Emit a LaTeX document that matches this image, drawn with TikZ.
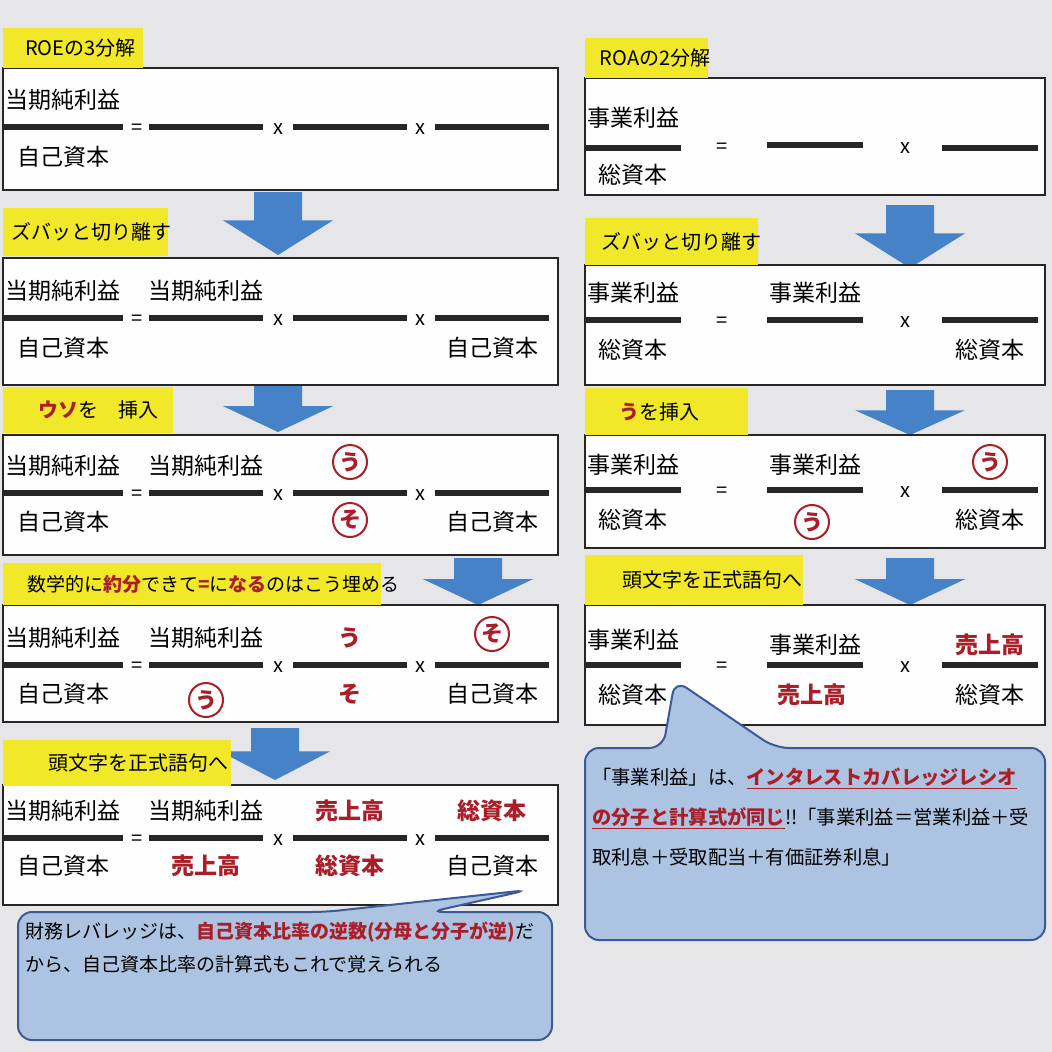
\documentclass[tikz,border=0pt]{standalone}
\usepackage{fontspec}
\setmainfont{Noto Sans CJK JP}
\definecolor{bg}{RGB}{230,230,232}
\definecolor{ylw}{RGB}{240,232,40}
\definecolor{blu}{RGB}{70,130,200}
\definecolor{rd}{RGB}{170,30,40}
\definecolor{cfill}{RGB}{172,196,226}
\definecolor{cline}{RGB}{60,90,150}
\tikzset{
 panel/.style={draw=black!85,line width=2.5pt,fill=white!94!bg},
 lab/.style={fill=ylw,anchor=north west,inner sep=0pt,font=\fontsize{20}{22}\selectfont},
 bar/.style={line width=5.5pt,black!85},
 ft/.style={font=\fontsize{23}{26}\selectfont,inner sep=0pt},
 rt/.style={font=\fontsize{23}{26}\selectfont\bfseries,text=rd,inner sep=0pt},
 circ/.style={draw=rd,line width=2pt,circle,minimum size=34pt,inner sep=0pt,font=\fontsize{22}{24}\selectfont\bfseries,text=rd},
 op/.style={font=\fontsize{20}{22}\selectfont,inner sep=0pt},
 barrow/.style={fill=blu,draw=none},
 callout/.style={fill=cfill,draw=cline,line width=2pt,rounded corners=14pt},
 ctext/.style={anchor=north west,inner sep=0pt,align=left},
}
\newcommand\bfr[4]{% name,x,y,halfwidth
 \draw[bar] (#2-#4,#3) coordinate(#1a) -- (#2+#4,#3) coordinate(#1b);}
\newcommand\arr[3]{% x, top, bottom
 \fill[barrow] (#1-24,#2) -- (#1+24,#2) -- (#1+24,#2+0.45*#3-0.45*#2) -- (#1+55,#2+0.45*#3-0.45*#2) -- (#1,#3) -- (#1-55,#2+0.45*#3-0.45*#2) -- (#1-24,#2+0.45*#3-0.45*#2) -- cycle;}
\begin{document}
\begin{tikzpicture}[x=1pt,y=-1pt]
\fill[bg] (0,0) rectangle (1052,1052);
\useasboundingbox (0,0) rectangle (1052,1052);
% ===== LEFT =====
\arr{278}{192}{255}
\arr{278}{385}{432}
\arr{478}{558}{605}
\arr{275}{728}{780}
\draw[panel] (3,68) rectangle (558,190);
\draw[panel] (3,258) rectangle (558,385);
\draw[panel] (3,435) rectangle (558,555);
\draw[panel] (3,605) rectangle (558,722);
\draw[panel] (3,785) rectangle (558,905);
\node[lab,minimum width=140pt,minimum height=40pt,text width=120pt] (l1) at (3,28) {\hspace*{12pt}ROEの3分解};
\node[lab,minimum width=165pt,minimum height=48pt,text width=160pt] (l2) at (3,208) {\hspace*{6pt}ズバッと切り離す};
\node[lab,minimum width=170pt,minimum height=46pt,text width=160pt] (l3) at (3,387) {\hspace*{30pt}{\bfseries\color{rd}ウソ}を\quad 挿入};
\node[lab,minimum width=378pt,minimum height=42pt,text width=370pt,font=\fontsize{19}{22}\selectfont] (l4) at (3,563) {\hspace*{20pt}数学的に{\bfseries\color{rd}約分}できて{\bfseries\color{rd}=}に{\bfseries\color{rd}なる}のはこう埋める};
\node[lab,minimum width=228pt,minimum height=46pt,text width=210pt] (l5) at (3,740) {\hspace*{36pt}頭文字を正式語句へ};
% box1
\bfr{a1}{63}{127}{60}
\node[ft] (a1n) at (63,100) {当期純利益};
\node[ft] (a1d) at (63,157) {自己資本};
\node[op] (a1e) at (137,129) {=};
\bfr{a2}{206}{127}{57}
\node[op] (a1x) at (278,129) {x};
\bfr{a3}{350}{127}{57}
\node[op] (a1y) at (420,129) {x};
\bfr{a4}{492}{127}{57}
% box2
\bfr{b1}{63}{318}{60}
\node[ft] (b1n) at (63,291) {当期純利益};
\node[ft] (b1d) at (63,348) {自己資本};
\node[op] (b1e) at (137,320) {=};
\bfr{b2}{206}{318}{57}
\node[ft] (b2n) at (206,291) {当期純利益};
\node[op] (b1x) at (278,320) {x};
\bfr{b3}{350}{318}{57}
\node[op] (b1y) at (420,320) {x};
\bfr{b4}{492}{318}{57}
\node[ft] (b4d) at (492,348) {自己資本};
% box3
\bfr{c1}{63}{493}{60}
\node[ft] (c1n) at (63,466) {当期純利益};
\node[ft] (c1d) at (63,522) {自己資本};
\node[op] (c1e) at (137,495) {=};
\bfr{c2}{206}{493}{57}
\node[ft] (c2n) at (206,466) {当期純利益};
\node[op] (c1x) at (278,495) {x};
\bfr{c3}{350}{493}{57}
\node[circ] (c3n) at (350,462) {う};
\node[circ] (c3d) at (350,520) {そ};
\node[op] (c1y) at (420,495) {x};
\bfr{c4}{492}{493}{57}
\node[ft] (c4d) at (492,522) {自己資本};
% box4
\bfr{d1}{63}{665}{60}
\node[ft] (d1n) at (63,638) {当期純利益};
\node[ft] (d1d) at (63,694) {自己資本};
\node[op] (d1e) at (137,667) {=};
\bfr{d2}{206}{665}{57}
\node[ft] (d2n) at (206,638) {当期純利益};
\node[circ] (d2d) at (206,700) {う};
\node[op] (d1x) at (278,667) {x};
\bfr{d3}{350}{665}{57}
\node[rt] (d3n) at (350,638) {う};
\node[rt] (d3d) at (350,694) {そ};
\node[op] (d1y) at (420,667) {x};
\bfr{d4}{492}{665}{57}
\node[circ] (d4n) at (492,634) {そ};
\node[ft] (d4d) at (492,694) {自己資本};
% box5
\bfr{e1}{63}{838}{60}
\node[ft] (e1n) at (63,811) {当期純利益};
\node[ft] (e1d) at (63,866) {自己資本};
\node[op] (e1e) at (137,840) {=};
\bfr{e2}{206}{838}{57}
\node[ft] (e2n) at (206,811) {当期純利益};
\node[rt] (e2d) at (206,866) {売上高};
\node[op] (e1x) at (278,840) {x};
\bfr{e3}{350}{838}{57}
\node[rt] (e3n) at (350,811) {売上高};
\node[rt] (e3d) at (350,866) {総資本};
\node[op] (e1y) at (420,840) {x};
\bfr{e4}{492}{838}{57}
\node[rt] (e4n) at (492,811) {総資本};
\node[ft] (e4d) at (492,866) {自己資本};
% callout left
\coordinate (lt) at (528,890);
\draw[callout] (18,912) -- (325,912) -- (lt) -- (430,912) -- (552,912) -- (552,1040) -- (18,1040) -- cycle;
\node[ctext,font=\fontsize{19}{33}\selectfont] (lc) at (25,922) {財務レバレッジは、{\bfseries\color{rd}自己資本比率の逆数(分母と分子が逆)}だ\\から、自己資本比率の計算式もこれで覚えられる};
% ===== RIGHT =====
\arr{910}{205}{268}
\arr{910}{390}{435}
\arr{910}{558}{605}
\draw[panel] (585,78) rectangle (1045,195);
\draw[panel] (585,265) rectangle (1045,385);
\draw[panel] (585,435) rectangle (1045,548);
\draw[panel] (585,605) rectangle (1045,725);
\node[lab,minimum width=123pt,minimum height=40pt,text width=110pt] (r1) at (585,38) {\hspace*{8pt}ROAの2分解};
\node[lab,minimum width=173pt,minimum height=47pt,text width=165pt] (r2) at (585,218) {\hspace*{12pt}ズバッと切り離す};
\node[lab,minimum width=163pt,minimum height=47pt,text width=150pt] (r3) at (585,388) {\hspace*{28pt}{\bfseries\color{rd}う}を挿入};
\node[lab,minimum width=218pt,minimum height=50pt,text width=200pt] (r4) at (585,555) {\hspace*{28pt}頭文字を正式語句へ};
% R box1
\bfr{f1}{633}{148}{48}
\node[ft] (f1n) at (633,118) {事業利益};
\node[ft] (f1d) at (633,175) {総資本};
\node[op] (f1e) at (722,148) {=};
\bfr{f2}{815}{145}{48}
\node[op] (f1x) at (905,148) {x};
\bfr{f3}{990}{148}{48}
% R box2
\bfr{g1}{633}{320}{48}
\node[ft] (g1n) at (633,293) {事業利益};
\node[ft] (g1d) at (633,350) {総資本};
\node[op] (g1e) at (722,322) {=};
\bfr{g2}{815}{320}{48}
\node[ft] (g2n) at (815,293) {事業利益};
\node[op] (g1x) at (905,322) {x};
\bfr{g3}{990}{320}{48}
\node[ft] (g3d) at (990,350) {総資本};
% R box3
\bfr{h1}{633}{490}{48}
\node[ft] (h1n) at (633,465) {事業利益};
\node[ft] (h1d) at (633,520) {総資本};
\node[op] (h1e) at (722,492) {=};
\bfr{h2}{815}{490}{48}
\node[ft] (h2n) at (815,465) {事業利益};
\node[circ] (h2d) at (812,522) {う};
\node[op] (h1x) at (905,492) {x};
\bfr{h3}{990}{490}{48}
\node[circ] (h3n) at (990,462) {う};
\node[ft] (h3d) at (990,520) {総資本};
% R box4
\bfr{i1}{633}{665}{48}
\node[ft] (i1n) at (633,640) {事業利益};
\node[ft] (i1d) at (633,695) {総資本};
\node[op] (i1e) at (722,667) {=};
\bfr{i2}{815}{665}{48}
\node[ft] (i2n) at (815,645) {事業利益};
\node[rt] (i2d) at (812,695) {売上高};
\node[op] (i1x) at (905,667) {x};
\bfr{i3}{990}{665}{48}
\node[rt] (i3n) at (990,645) {売上高};
\node[ft] (i3d) at (990,695) {総資本};
% callout right
\coordinate (rtp) at (675,680);
\draw[callout] (585,748) -- (663,748) -- (rtp) -- (775,748) -- (1045,748) -- (1045,940) -- (585,940) -- cycle;
\node[ctext,font=\fontsize{19.3}{40}\selectfont] (rc) at (592,768) {「事業利益」は、{\bfseries\color{rd}\underline{インタレストカバレッジレシオ}}\\{\bfseries\color{rd}\underline{の分子と計算式が同じ}}!!「事業利益＝営業利益＋受\\取利息＋受取配当＋有価証券利息」};
\end{tikzpicture}
\end{document}
